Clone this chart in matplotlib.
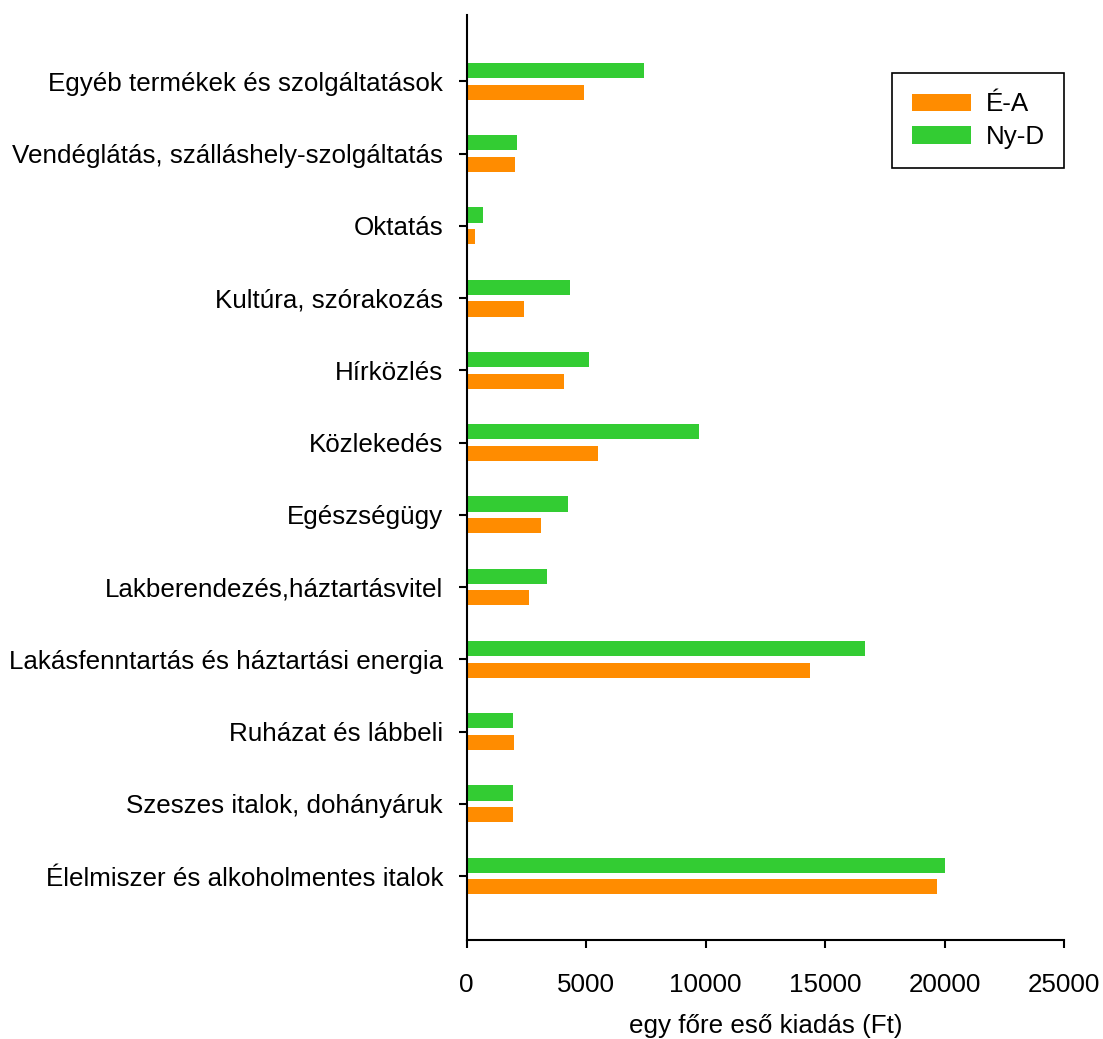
import numpy as np
import matplotlib.pyplot as plt

plt.rcParams['font.family'] = ['Liberation Sans', 'DejaVu Sans']

# Spending categories, bottom to top
categories = [
    'Élelmiszer és alkoholmentes italok',
    'Szeszes italok, dohányáruk',
    'Ruházat és lábbeli',
    'Lakásfenntartás és háztartási energia',
    'Lakberendezés,háztartásvitel',
    'Egészségügy',
    'Közlekedés',
    'Hírközlés',
    'Kultúra, szórakozás',
    'Oktatás',
    'Vendéglátás, szálláshely-szolgáltatás',
    'Egyéb termékek és szolgáltatások',
]

# Per-capita spending (Ft)
ea_values = [19690, 1950, 1990, 14350, 2620, 3120, 5490, 4085, 2410, 335, 2020, 4920]
nyd_values = [20040, 1950, 1925, 16665, 3345, 4225, 9730, 5105, 4310, 685, 2120, 7405]

x_ticks = [0, 5000, 10000, 15000, 20000, 25000]

fig = plt.figure(figsize=(11.03, 10.39), dpi=100)
ax = fig.add_axes([466.7 / 1103, 1 - 940 / 1039, (1064 - 466.7) / 1103, (940 - 15) / 1039])

y = np.arange(len(categories))
h = 0.21
ax.barh(y - 0.15, ea_values, height=h, color='#FF8C00', label='É-A')
ax.barh(y + 0.15, nyd_values, height=h, color='#33CC33', label='Ny-D')

ax.set_xlim(0, 25000)
ax.set_ylim(-0.886, 11.92)
ax.set_xticks(x_ticks)
ax.set_xticklabels([str(t) for t in x_ticks])
ax.set_yticks(y)
ax.set_yticklabels(categories)

for side in ('top', 'right'):
    ax.spines[side].set_visible(False)
for side in ('left', 'bottom'):
    ax.spines[side].set_linewidth(1.5)

fs = 18.7
ax.tick_params(axis='y', length=6, width=1.5, pad=11, labelsize=fs)
ax.tick_params(axis='x', length=6, width=1.5, pad=18, labelsize=fs)
ax.set_xlabel('egy főre eső kiadás (Ft)', fontsize=fs, labelpad=12)

leg = ax.legend(loc='upper right', bbox_to_anchor=(1.0, 0.937), fontsize=fs,
                fancybox=False, edgecolor='black', framealpha=1,
                handlelength=2.3, handleheight=0.66, borderpad=0.74,
                labelspacing=0.33, handletextpad=0.55, borderaxespad=0)
leg.get_frame().set_linewidth(1.2)

fig.savefig('out.png', dpi=100)
